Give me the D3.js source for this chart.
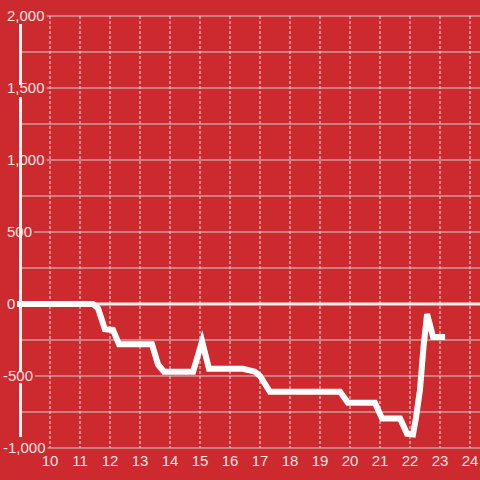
<!DOCTYPE html>
<html>
<head>
<meta charset="utf-8">
<script src="https://cdn.jsdelivr.net/npm/d3@7"></script>
<style>
  body { margin: 0; background: #cc2a2e; }
  svg { display: block; font-family: "Liberation Sans", Arial, sans-serif; }
</style>
</head>
<body>
<svg width="480" height="480"></svg>
<script>
// hours of day and values
var hours  = [8.9, 11.43, 11.6, 11.83, 12.1, 12.3, 13.4, 13.6, 13.8, 14.77, 15.07, 15.3, 16.43, 16.83, 17.0, 17.33,
              19.67, 19.93, 20.83, 21.07, 21.67, 21.9, 22.1, 22.2, 22.33, 22.45, 22.57, 22.77, 23.17];
var values = [0, 0, -30, -175, -180, -280, -280, -420, -470, -470, -260, -450, -450, -470, -500, -610,
              -610, -685, -685, -795, -795, -900, -905, -790, -600, -300, -70, -230, -230];

var xTicks = [10, 11, 12, 13, 14, 15, 16, 17, 18, 19, 20, 21, 22, 23, 24];
var yLabelTicks = [2000, 1500, 1000, 500, 0, -500, -1000];
var yMinorTicks = [1750, 1250, 750, 250, -250, -750];

var bg = "#cc2a2e";
var textColor = "#f3e2e2";

var svg = d3.select("svg");

// scales
var x = d3.scaleLinear().domain([10, 24]).range([50, 470]);
var y = d3.scaleLinear().domain([-1000, 2000]).range([448, 16]);

var axisX = 20.5;

// vertical dashed grid
svg.append("g")
    .selectAll("line")
    .data(xTicks)
    .enter().append("line")
    .attr("x1", function (d) { return x(d); })
    .attr("x2", function (d) { return x(d); })
    .attr("y1", y(2000))
    .attr("y2", y(-1000))
    .attr("stroke", "#e4e4e4")
    .attr("stroke-width", 1)
    .attr("stroke-dasharray", "3,2");

// minor horizontal grid
svg.append("g")
    .selectAll("line")
    .data(yMinorTicks)
    .enter().append("line")
    .attr("x1", axisX + 1.5)
    .attr("x2", 480)
    .attr("y1", function (d) { return y(d); })
    .attr("y2", function (d) { return y(d); })
    .attr("stroke", "#d2d2d2")
    .attr("stroke-width", 1.2);

// labelled horizontal grid + labels
var labelX = function (d) { return d < 0 ? 3 : 7; };
var labels = svg.append("g")
    .selectAll("text")
    .data(yLabelTicks)
    .enter().append("text")
    .attr("x", labelX)
    .attr("y", function (d) { return y(d); })
    .attr("dy", "0.35em")
    .attr("font-size", "15px")
    .attr("fill", textColor)
    .text(function (d) { return d3.format(",")(d).replace("−", "-"); });

var ends = {};
labels.each(function (d) { ends[d] = labelX(d) + this.getComputedTextLength(); });

svg.insert("g", "g")
    .selectAll("line")
    .data(yLabelTicks.filter(function (d) { return d !== 0; }))
    .enter().append("line")
    .attr("x1", function (d) { return ends[d] + 2; })
    .attr("x2", 480)
    .attr("y1", function (d) { return y(d); })
    .attr("y2", function (d) { return y(d); })
    .attr("stroke", "#d2d2d2")
    .attr("stroke-width", 1.2);

// vertical axis line (broken where some labels sit)
var axisSegments = [[24, 85], [97, 372], [383, 437]];
svg.append("g")
    .selectAll("line")
    .data(axisSegments)
    .enter().append("line")
    .attr("x1", axisX).attr("x2", axisX)
    .attr("y1", function (d) { return d[0]; })
    .attr("y2", function (d) { return d[1]; })
    .attr("stroke", "#f2f2f2")
    .attr("stroke-width", 3);

// zero line
svg.append("line")
    .attr("x1", axisX).attr("x2", 480)
    .attr("y1", y(0)).attr("y2", y(0))
    .attr("stroke", "#f0f0f0")
    .attr("stroke-width", 3);

// x labels
svg.append("g")
    .selectAll("text")
    .data(xTicks)
    .enter().append("text")
    .attr("x", function (d) { return x(d); })
    .attr("y", 466)
    .attr("text-anchor", "middle")
    .attr("font-size", "15px")
    .attr("fill", textColor)
    .text(function (d) { return d; });

// data line
var line = d3.line()
    .x(function (d, i) { return x(hours[i]); })
    .y(function (d) { return y(d); });

svg.append("path")
    .datum(values)
    .attr("d", line)
    .attr("fill", "none")
    .attr("stroke", "#ffffff")
    .attr("stroke-width", 6);

// bring labels to front
labels.raise();
</script>
</body>
</html>
